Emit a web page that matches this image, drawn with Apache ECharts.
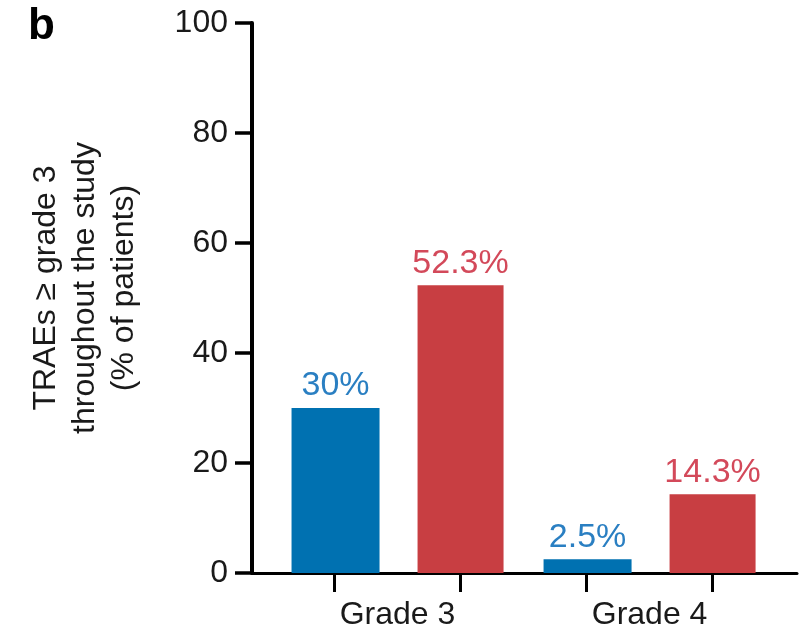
<!DOCTYPE html>
<html>
<head>
<meta charset="utf-8">
<script src="https://cdn.jsdelivr.net/npm/echarts@6/dist/echarts.min.js"></script>
<style>
  html, body { margin: 0; padding: 0; background: #fff; }
  #chart { width: 807px; height: 631px; }
</style>
</head>
<body>
<div id="chart"></div>
<script>
// Adverse-event grades and the share of patients in each cohort
const categories = ['Grade 3', 'Grade 4'];
const cohortA = [30, 2.5];
const cohortB = [52.3, 14.3];
const valueLabelsA = ['30%', '2.5%'];
const valueLabelsB = ['52.3%', '14.3%'];
const yTicks = [0, 20, 40, 60, 80, 100];

const BLUE = '#0071b1';
const RED = '#c83e42';
const FONT = '"Liberation Sans", Arial, Helvetica, sans-serif';

// Each category holds two bars side by side: slot 1/2 for the first grade, 3/4 for the second
const barSlots = (catIdx, seriesIdx) => 1 + 2 * catIdx + seriesIdx;
const dataA = categories.map((c, i) => ({ value: [barSlots(i, 0), cohortA[i]], text: valueLabelsA[i] }));
const dataB = categories.map((c, i) => ({ value: [barSlots(i, 1), cohortB[i]], text: valueLabelsB[i] }));
const tickSlots = categories.flatMap((c, i) => [barSlots(i, 0), barSlots(i, 1)]);
const labelSlots = categories.map((c, i) => barSlots(i, 0) + 0.5);

const chart = echarts.init(document.getElementById('chart'), null, { renderer: 'canvas' });

chart.setOption({
  animation: false,
  backgroundColor: '#ffffff',
  title: {
    text: 'b',
    left: 23,
    top: 0,
    textStyle: { fontFamily: FONT, fontSize: 44, fontWeight: 'bold', color: '#000' }
  },
  grid: { left: 252, right: 10, top: 23, bottom: 57 },
  xAxis: {
    type: 'value',
    min: 0.345,
    max: 4.67,
    splitLine: { show: false },
    axisLine: { show: true, onZero: false, lineStyle: { color: '#000', width: 3 } },
    axisTick: {
      show: true,
      customValues: tickSlots,
      length: 19,
      lineStyle: { color: '#000', width: 3 }
    },
    axisLabel: {
      customValues: labelSlots,
      margin: 26,
      fontFamily: FONT,
      fontSize: 32,
      color: '#1a1a1a',
      formatter: v => categories[Math.round((v - 1.5) / 2)]
    }
  },
  yAxis: {
    type: 'value',
    min: 0,
    max: 100,
    interval: 20,
    splitLine: { show: false },
    axisLine: { show: true, lineStyle: { color: '#000', width: 4 } },
    axisTick: { show: true, length: 17, lineStyle: { color: '#000', width: 3.5 } },
    axisLabel: {
      margin: 24,
      fontFamily: FONT,
      fontSize: 32,
      color: '#1a1a1a',
      formatter: v => (yTicks.includes(v) ? String(v) : '')
    },
    name: 'TRAEs ≥ grade 3\nthroughout the study\n(% of patients)',
    nameLocation: 'middle',
    nameGap: 108,
    nameTextStyle: {
      fontFamily: FONT,
      fontSize: 32,
      lineHeight: 39,
      color: '#1a1a1a',
      padding: [0, 0, 0, 20]
    }
  },
  series: [
    {
      name: 'Cohort A',
      type: 'bar',
      data: dataA,
      barWidth: 88,
      itemStyle: { color: BLUE },
      label: {
        show: true,
        position: 'top',
        distance: 5,
        fontFamily: FONT,
        fontSize: 34,
        color: '#2a7fc2',
        formatter: p => p.data.text
      }
    },
    {
      name: 'Cohort B',
      type: 'bar',
      data: dataB,
      barWidth: 86,
      barGap: '-100%',
      itemStyle: { color: RED },
      label: {
        show: true,
        position: 'top',
        distance: 5,
        fontFamily: FONT,
        fontSize: 34,
        color: '#d3495a',
        formatter: p => p.data.text
      }
    }
  ]
});
</script>
</body>
</html>
